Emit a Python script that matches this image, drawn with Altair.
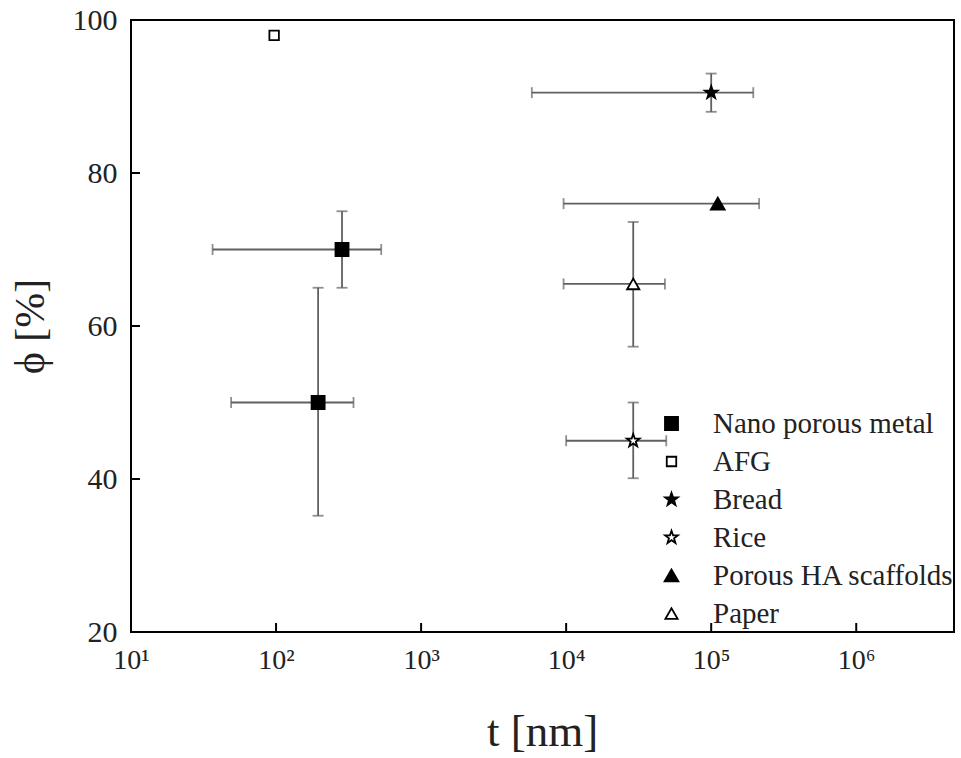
import altair as alt
import pandas as pd

# ---- data ----
materials = ["Nano porous metal", "Nano porous metal", "AFG", "Bread", "Rice",
             "Porous HA scaffolds", "Paper"]
t_nm = [285, 195, 97, 1.0e5, 2.9e4, 1.11e5, 2.9e4]
t_lo = [36.5, 49, None, 5.8e3, 1.0e4, 9.6e3, 9.6e3]
t_hi = [531, 342, None, 1.95e5, 4.9e4, 2.14e5, 4.8e4]
phi = [70, 50, 98, 90.5, 45, 76, 65.5]
phi_lo = [65, 35.2, None, 88, 40.1, None, 57.3]
phi_hi = [75, 65, None, 93, 50, None, 73.6]

legend_order = ["Nano porous metal", "AFG", "Bread", "Rice", "Porous HA scaffolds", "Paper"]
STAR = ("M0,-1L0.235,-0.324L0.951,-0.309L0.380,0.124L0.588,0.809L0,0.4"
        "L-0.588,0.809L-0.380,0.124L-0.951,-0.309L-0.235,-0.324Z")
shapes = ["square", "square", STAR, STAR, "triangle-up", "triangle-up"]
fills = ["black", "white", "black", "white", "black", "white"]
strokes = ["black"] * 6
sizes = [170, 90, 180, 180, 190, 150]

x_ticks = [100, 1000, 1e4, 1e5, 1e6]
x_label_vals = [10, 100, 1000, 1e4, 1e5, 1e6]
y_ticks = [20, 40, 60, 80, 100]

df = pd.DataFrame({"Material": materials, "t": t_nm, "t_lo": t_lo, "t_hi": t_hi,
                   "phi": phi, "phi_lo": phi_lo, "phi_hi": phi_hi})
dfx = df.dropna(subset=["t_lo"])
dfy = df.dropna(subset=["phi_lo"])

W, H = 823, 612
FONT = "Liberation Serif"
XFONT = "'Liberation Serif', 'DejaVu Serif', serif"
ERR = "#606060"

xs = alt.Scale(type="log", domain=[10, 4.72e6], nice=False)
ys = alt.Scale(domain=[20, 100], nice=False, zero=False)

x_axis = alt.Axis(values=x_label_vals, labelFlush=False, labelOverlap=False,
                  labelBound=False,
                  labelExpr="'10' + ['\u2070','\u00b9','\u00b2','\u00b3','\u2074','\u2075','\u2076'][round(log(datum.value)/LN10)]",
                  labelFont=XFONT, labelFontSize=28, labelColor="#222",
                  labelPadding=14, ticks=False, domain=False, grid=False,
                  title="t [nm]", titleFont=FONT, titleFontSize=45,
                  titleFontWeight="normal", titleColor="#222",
                  titleX=411, titleY=113, titleBaseline="alphabetic",
                  titleAlign="center", orient="bottom")
y_axis = alt.Axis(values=y_ticks, labelFont=FONT, labelFontSize=30,
                  labelColor="#222", labelPadding=14, ticks=False,
                  domain=False, grid=False, labelFlush=False,
                  title="\u03d5 [%]", titleFont=FONT, titleFontSize=42,
                  titleFontWeight="normal", titleColor="#222",
                  titleX=-101, titleY=306, titleAngle=-90,
                  titleAlign="center", titleBaseline="middle", orient="left")

# inward ticks (these layers also carry the axes)
xtick_df = pd.DataFrame({"v": x_ticks})
ytick_df = pd.DataFrame({"v": y_ticks})
xtick_rules = alt.Chart(xtick_df).mark_rule(color="black", strokeWidth=2).encode(
    x=alt.X("v:Q", scale=xs, axis=x_axis), y=alt.value(H), y2=alt.value(H - 9))
ytick_rules = alt.Chart(ytick_df).mark_rule(color="black", strokeWidth=2).encode(
    y=alt.Y("v:Q", scale=ys, axis=y_axis), x=alt.value(0), x2=alt.value(9))

xerr = alt.Chart(dfx).mark_rule(color=ERR, strokeWidth=1.8).encode(
    x=alt.X("t_lo:Q", scale=xs, axis=None), x2="t_hi:Q",
    y=alt.Y("phi:Q", scale=ys, axis=None))
xcap_lo = alt.Chart(dfx).mark_tick(color=ERR, orient="vertical", size=11, thickness=1.8).encode(
    x=alt.X("t_lo:Q", scale=xs, axis=None), y=alt.Y("phi:Q", scale=ys, axis=None))
xcap_hi = alt.Chart(dfx).mark_tick(color=ERR, orient="vertical", size=11, thickness=1.8).encode(
    x=alt.X("t_hi:Q", scale=xs, axis=None), y=alt.Y("phi:Q", scale=ys, axis=None))

yerr = alt.Chart(dfy).mark_rule(color=ERR, strokeWidth=1.8).encode(
    x=alt.X("t:Q", scale=xs, axis=None),
    y=alt.Y("phi_lo:Q", scale=ys, axis=None), y2="phi_hi:Q")
ycap_lo = alt.Chart(dfy).mark_tick(color=ERR, orient="horizontal", size=11, thickness=1.8).encode(
    x=alt.X("t:Q", scale=xs, axis=None), y=alt.Y("phi_lo:Q", scale=ys, axis=None))
ycap_hi = alt.Chart(dfy).mark_tick(color=ERR, orient="horizontal", size=11, thickness=1.8).encode(
    x=alt.X("t:Q", scale=xs, axis=None), y=alt.Y("phi_hi:Q", scale=ys, axis=None))

points = alt.Chart(df).mark_point(filled=False, strokeWidth=1.8, opacity=1).encode(
    x=alt.X("t:Q", scale=xs, axis=None),
    y=alt.Y("phi:Q", scale=ys, axis=None),
    shape=alt.Shape("Material:N", scale=alt.Scale(domain=legend_order, range=shapes),
                    legend=alt.Legend(title=None)),
    fill=alt.Fill("Material:N", scale=alt.Scale(domain=legend_order, range=fills),
                  legend=alt.Legend(title=None)),
    stroke=alt.Stroke("Material:N", scale=alt.Scale(domain=legend_order, range=strokes),
                      legend=alt.Legend(title=None)),
    size=alt.Size("Material:N", scale=alt.Scale(type="ordinal", domain=legend_order, range=sizes),
                  legend=alt.Legend(title=None)),
)

chart = alt.layer(
    xtick_rules, ytick_rules, xerr, xcap_lo, xcap_hi, yerr, ycap_lo, ycap_hi, points
).resolve_axis(
    x="independent", y="independent"
).properties(
    width=W, height=H,
    padding={"left": 131, "top": 20, "right": 7, "bottom": 126},
    autosize=alt.AutoSizeParams(type="none"),
    background="white",
).configure_view(
    stroke="black", strokeWidth=2
).configure_legend(
    orient="none", legendX=526, legendY=389, labelFont=FONT, labelFontSize=29,
    labelColor="#222", labelOffset=27, rowPadding=8, symbolStrokeColor="black",
    symbolStrokeWidth=1.8, padding=0, labelLimit=400
)

chart.save("out.html", embed_options={"renderer": "svg", "actions": False})
